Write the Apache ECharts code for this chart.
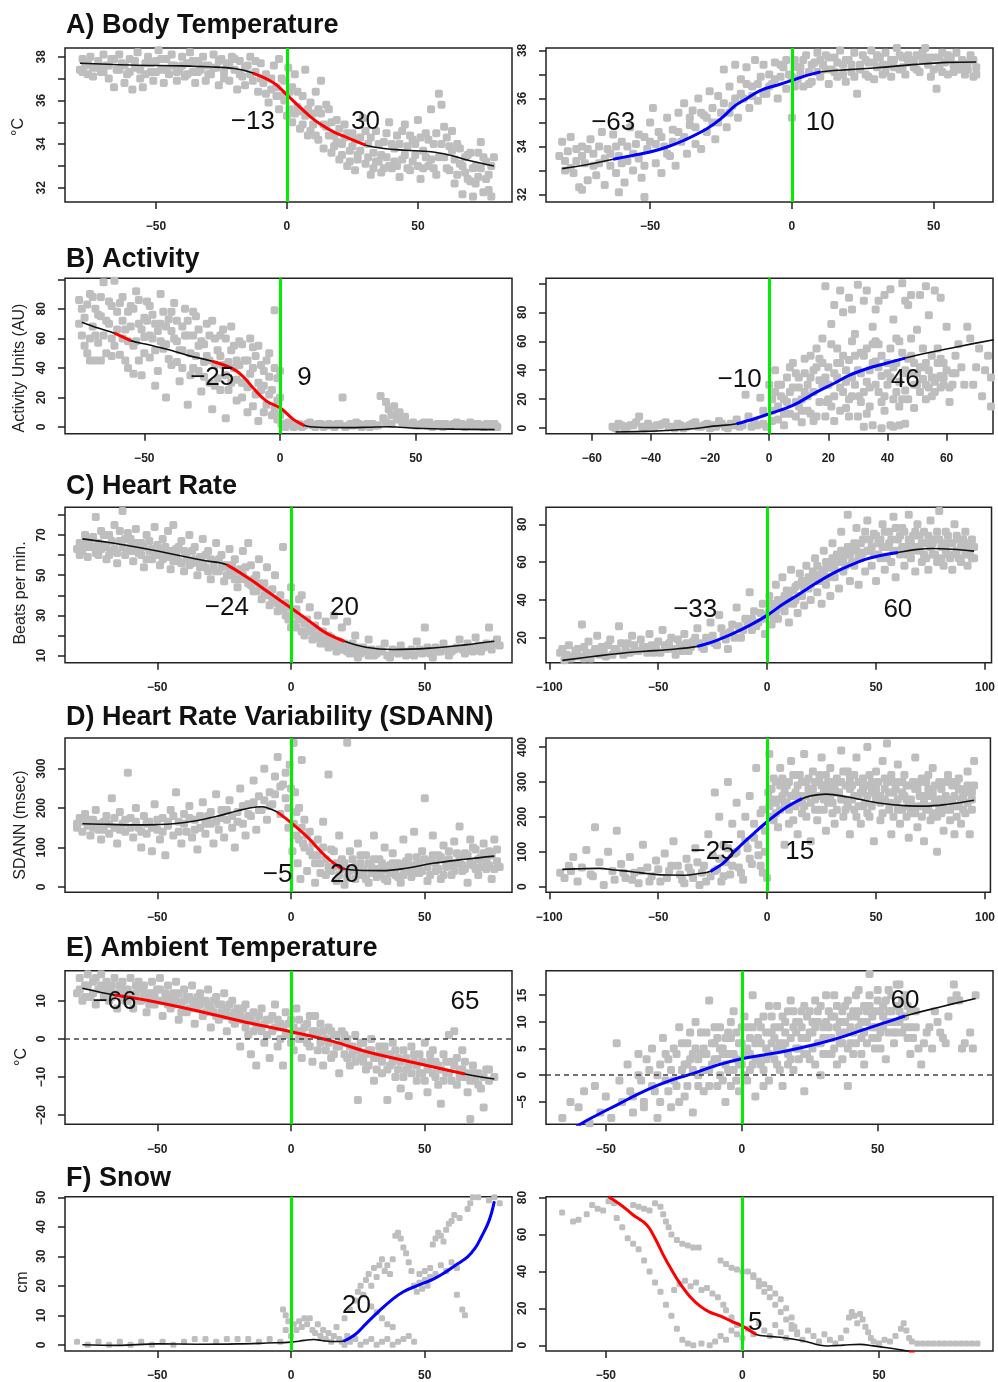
<!DOCTYPE html>
<html><head><meta charset="utf-8">
<script src="https://cdn.jsdelivr.net/npm/echarts@6/dist/echarts.min.js"></script>
<style>html,body{margin:0;padding:0;background:#fff}#c{width:998px;height:1382px}</style>
</head><body><div id="c"></div>
<script>
// ---------- tick values ----------
const xTicks50 = [-50, 0, 50];
const xTicks20 = [-60, -40, -20, 0, 20, 40, 60];
const xTicks100 = [-100, -50, 0, 50, 100];
const yTicksBT = [32, 33, 34, 35, 36, 37, 38];
const yLabBT = [32, 34, 36, 38];
const yTicksAct = [0, 20, 40, 60, 80, 100];
const yLabAct = [0, 20, 40, 60, 80];
const yTicksHRL = [10, 20, 30, 40, 50, 60, 70, 80];
const yLabHRL = [10, 30, 50, 70];
const yTicksHRR = [20, 40, 60, 80];
const yTicksSDL = [0, 100, 200, 300];
const yTicksSDR = [0, 100, 200, 300, 400];
const yTicksAmbL = [-20, -10, 0, 10];
const yTicksAmbR = [-5, 0, 5, 10, 15];
const yTicksSnowL = [0, 10, 20, 30, 40, 50];
const yTicksSnowR = [0, 20, 40, 60, 80];

// ---------- A) Body temperature ----------
const btLPts = [[-79,37.4],[-78,37.9],[-77,37.6],[-76,37.2],[-75,38.0],[-74,37.5],[-72,37.8],[-71,37.3],[-70,38.1],[-69,37.6],[-68,37.0],[-67,37.9],[-66,36.6],[-65,37.4],[-64,38.1],[-63,37.7],[-62,36.8],[-61,37.2],[-60,37.9],[-59,36.5],[-58,37.5],[-57,38.2],[-56,37.0],[-55,36.6],[-54,37.7],[-53,38.0],[-52,37.3],[-51,36.9],[-50,37.8],[-49,38.3],[-48,37.4],[-47,36.8],[-46,37.9],[-45,37.2],[-44,38.1],[-43,37.6],[-42,36.9],[-41,37.4],[-40,38.0],[-39,37.1],[-38,37.7],[-37,38.2],[-36,37.3],[-35,36.8],[-34,37.8],[-33,37.4],[-32,38.0],[-31,36.9],[-30,37.6],[-29,37.2],[-28,38.1],[-27,37.5],[-26,36.7],[-25,37.9],[-24,37.3],[-23,37.7],[-22,36.9],[-21,38.0],[-20,37.4],[-19,36.5],[-18,37.8],[-17,37.1],[-16,36.7],[-15,37.6],[-14,38.0],[-13,36.9],[-12,37.3],[-11,36.4],[-10,37.7],[-9,36.8],[-8,37.2],[-7,35.9],[-6,36.5],[-5,37.6],[-4,36.2],[-3,37.9],[-3,35.6],[-2,37.0],[-1,36.0],[0,35.3],[0.5,37.5],[1,36.4],[2,35.0],[3,37.2],[4,35.7],[5,34.7],[6,36.2],[7,37.4],[7,35.3],[8,34.4],[9,35.9],[10,34.9],[11,36.4],[12,34.2],[13,36.9],[13,35.4],[14,33.8],[15,34.8],[16,35.6],[17,33.6],[18,34.4],[19,35.1],[20,33.3],[21,34.0],[22,34.9],[23,33.0],[24,33.7],[25,34.5],[26,32.8],[27,33.5],[28,34.3],[29,35.2],[30,33.1],[31,34.0],[32,32.6],[33,33.6],[34,34.6],[35,33.2],[36,32.7],[37,34.1],[38,33.4],[39,35.0],[40,32.9],[41,33.8],[42,34.4],[43,32.5],[44,33.3],[45,34.9],[46,33.9],[47,32.8],[48,34.2],[49,33.5],[50,35.1],[51,32.4],[52,33.7],[53,34.5],[54,33.0],[55,35.6],[56,34.0],[57,32.6],[58,36.3],[59,35.8],[60,33.4],[61,34.3],[62,32.8],[63,33.7],[64,32.2],[65,34.0],[66,33.1],[67,31.7],[68,32.7],[69,33.5],[70,32.3],[71,31.6],[72,33.0],[73,32.5],[74,34.1],[75,31.8],[76,33.2],[77,32.6],[78,31.6],[79,33.4]];
const btLPtsMore = [[-78,37.3],[-76,37.7],[-74,37.1],[-72,37.5],[-70,37.3],[-68,37.6],[-66,37.9],[-64,37.4],[-62,37.6],[-60,37.3],[-58,37.8],[-56,37.4],[-54,37.2],[-52,37.7],[-50,37.3],[-48,37.9],[-46,37.4],[-44,37.6],[-42,37.3],[-40,37.6],[-38,37.2],[-36,37.8],[-34,37.3],[-32,37.6],[-30,37.2],[-28,37.5],[-26,37.8],[-24,37.0],[-22,37.6],[-20,37.9],[-18,37.2],[-16,37.5],[-14,37.2],[-12,37.8],[-10,37.0],[-8,36.3],[-6,37.0],[-4,36.6],[-2,36.2],[-1,36.9],[1,35.6],[2,36.6],[3,35.4],[4,36.4],[5,35.5],[6,34.9],[8,35.6],[9,34.6],[10,35.4],[11,34.4],[12,35.6],[14,34.9],[15,35.8],[16,34.4],[17,35.0],[18,33.9],[19,34.1],[20,34.7],[21,33.5],[22,34.3],[23,34.5],[24,33.2],[25,33.9],[26,34.2],[27,33.3],[28,33.7],[30,34.6],[31,33.4],[32,34.3],[33,32.9],[34,33.2],[35,34.0],[36,33.5],[37,32.9],[38,34.5],[39,33.0],[40,34.0],[41,33.2],[42,33.0],[43,34.0],[44,34.6],[45,33.5],[46,32.9],[47,34.4],[48,33.2],[49,34.0],[50,33.0],[51,34.3],[52,32.9],[53,33.4],[54,34.2],[55,33.3],[56,32.9],[57,34.5],[58,33.4],[59,34.0],[60,34.8],[61,32.9],[62,33.9],[63,34.6],[64,33.3],[65,32.6],[66,33.8],[67,33.0],[68,33.4],[69,32.4],[70,33.6],[71,32.9],[72,32.2],[73,33.6],[74,32.9],[75,33.4],[76,32.4],[77,31.9],[78,33.0]];
const btLFit = [[-79,37.7],[-60,37.62],[-40,37.58],[-30,37.54],[-20,37.46],[-13,37.25],[-5,36.8],[0,36.25],[4,35.8],[9,35.25],[13,34.9],[18,34.55],[23,34.3],[30,33.95],[37,33.8],[45,33.72],[55,33.65],[62,33.5],[68,33.3],[79,33.0]];
const btLSegs = [[-13, 30]];
const btLLabels = [{value:[-13,35], name:'\u221213'}, {value:[30,35], name:'30'}];

const btRPts = [[-82,33.6],[-81,34.2],[-80,33.0],[-79,33.8],[-78,34.4],[-77,32.9],[-76,33.4],[-75,32.3],[-74,34.0],[-74,32.2],[-73,33.3],[-72,32.6],[-71,34.3],[-70,33.7],[-69,32.8],[-68,33.3],[-67,34.6],[-66,32.4],[-65,33.9],[-64,33.2],[-63,34.5],[-62,32.9],[-61,33.6],[-61,32.1],[-60,34.2],[-59,32.5],[-58,33.4],[-57,34.8],[-56,33.0],[-55,34.1],[-54,33.5],[-53,32.7],[-52,34.4],[-52,31.9],[-51,33.9],[-50,35.0],[-49,35.6],[-48,33.3],[-47,34.6],[-46,32.9],[-45,34.0],[-44,35.2],[-43,33.6],[-42,34.7],[-41,33.2],[-40,35.4],[-39,34.2],[-38,35.8],[-37,33.7],[-36,34.9],[-35,35.5],[-34,34.1],[-33,36.0],[-32,33.9],[-31,35.3],[-30,34.6],[-29,36.3],[-28,35.0],[-27,34.3],[-26,36.1],[-25,35.4],[-24,37.2],[-23,34.8],[-22,36.5],[-21,35.7],[-20,37.4],[-19,35.2],[-18,36.8],[-17,36.0],[-16,37.3],[-15,35.6],[-14,36.5],[-13,37.6],[-12,35.9],[-11,36.9],[-10,37.4],[-9,36.2],[-8,37.0],[-7,36.6],[-6,37.5],[-5,36.0],[-4,36.9],[-3,37.3],[-2,36.4],[-1,37.0],[0,35.2],[1,37.6],[2,36.8],[3,37.3],[4,36.5],[5,37.8],[6,37.1],[7,36.7],[8,37.5],[9,37.9],[10,36.9],[11,37.4],[12,37.8],[13,36.6],[14,37.2],[15,37.7],[16,36.9],[17,38.0],[18,37.4],[19,36.7],[20,37.6],[21,37.1],[22,37.9],[23,36.2],[24,37.4],[25,37.8],[26,37.0],[27,37.5],[28,38.0],[29,36.8],[30,37.3],[31,37.7],[32,37.0],[33,37.9],[34,37.4],[35,36.9],[36,37.6],[37,38.1],[38,37.2],[39,37.7],[40,37.0],[41,37.5],[42,38.2],[43,37.3],[44,37.8],[45,37.1],[46,37.6],[47,38.1],[48,37.4],[49,36.9],[50,37.7],[51,36.4],[52,37.3],[53,37.9],[54,37.5],[55,37.0],[56,37.7],[57,37.4],[58,37.9],[59,37.2],[60,37.6],[61,37.0],[62,37.5],[63,37.8],[64,36.9],[65,37.3]];
const btRPtsMore = [[-80,33.4],[-78,33.1],[-76,33.9],[-74,33.6],[-72,33.9],[-70,33.2],[-68,34.0],[-66,33.5],[-64,33.7],[-62,34.0],[-60,33.3],[-58,34.0],[-56,33.7],[-54,34.5],[-52,33.2],[-50,34.2],[-48,34.1],[-46,34.4],[-44,33.7],[-42,34.2],[-40,34.6],[-38,34.4],[-36,35.2],[-34,34.8],[-32,35.4],[-30,35.2],[-28,35.6],[-26,35.0],[-24,35.8],[-22,35.4],[-20,36.0],[-18,36.2],[-16,36.6],[-14,36.1],[-12,36.6],[-10,36.2],[-8,36.5],[-6,36.8],[-4,37.4],[-2,37.6],[0,36.9],[1,36.5],[2,37.3],[3,37.0],[4,37.6],[6,36.6],[7,37.4],[9,37.1],[10,37.6],[12,37.2],[13,37.7],[15,37.1],[16,37.5],[18,37.0],[19,37.6],[21,37.4],[22,36.9],[24,37.2],[26,37.6],[27,36.9],[29,37.5],[30,37.8],[32,37.4],[33,37.1],[35,37.6],[36,37.3],[38,37.8],[39,37.3],[41,37.8],[43,37.6],[44,37.2],[46,37.9],[48,37.7],[50,37.2],[52,37.7],[53,37.1],[55,37.8],[57,37.1],[58,37.4],[60,37.3],[62,37.2],[64,37.6],[65,37.0]];
const btRFit = [[-81,33.08],[-72,33.25],[-63,33.47],[-56,33.63],[-50,33.77],[-44,33.98],[-38,34.26],[-30,34.74],[-25,35.16],[-20,35.7],[-16,35.99],[-11,36.34],[-5,36.56],[0,36.75],[5,36.95],[10,37.1],[20,37.2],[30,37.28],[44,37.42],[55,37.5],[65,37.52]];
const btRSegs = [[-63, 10]];
const btRLabels = [{value:[-63,35], name:'\u221263'}, {value:[10,35], name:'10'}];

// ---------- B) Activity ----------
const actLPts = [[-74,86],[-73,62],[-72,74],[-71,50],[-70,90],[-69,68],[-68,80],[-67,57],[-66,45],[-65,98],[-64,72],[-63,85],[-62,60],[-61,99],[-60,78],[-59,49],[-58,88],[-57,66],[-56,40],[-55,82],[-54,55],[-53,92],[-52,70],[-51,35],[-50,61],[-49,85],[-48,47],[-47,76],[-46,28],[-45,65],[-44,90],[-43,53],[-42,20],[-41,73],[-40,42],[-39,84],[-38,58],[-37,31],[-36,68],[-35,80],[-34,15],[-33,50],[-32,62],[-31,75],[-30,38],[-29,24],[-28,56],[-27,70],[-26,45],[-25,12],[-24,60],[-23,33],[-22,48],[-21,66],[-20,6],[-19,25],[-18,52],[-17,40],[-16,18],[-15,58],[-14,30],[-13,45],[-12,10],[-11,36],[-10,54],[-9,22],[-8,4],[-7,42],[-6,28],[-5,15],[-4,50],[-3,8],[-2,79],[-1,33],[0,20],[0.5,2],[-70,60],[-68,45],[-66,75],[-62,48],[-58,72],[-56,58],[-54,80],[-52,45],[-50,74],[-48,62],[-46,52],[-44,70],[-42,56],[-40,65],[-38,44],[-36,52],[-34,62],[-32,40],[-30,55],[-28,44],[-26,30],[-24,42],[-22,25],[-20,35],[-18,30],[-16,45],[-14,20],[-12,27],[-10,14],[-8,30],[-6,10],[-4,22],[-2,12],[-1,5],[1,1],[3,3],[5,0],[7,2],[9,1],[11,3],[13,0],[15,2],[17,1],[20,0],[22,2],[23,20],[25,1],[28,3],[30,0],[32,2],[35,1],[37,21],[38,6],[39,17],[40,12],[41,8],[42,14],[43,5],[44,10],[45,3],[46,7],[48,2],[50,1],[53,3],[56,0],[59,2],[62,1],[65,3],[68,0],[71,2],[74,1],[77,2],[80,0]];
const actLPtsMore = [[-74,70],[-73,80],[-72,55],[-71,83],[-70,45],[-69,88],[-68,62],[-67,76],[-66,88],[-65,62],[-64,50],[-63,70],[-62,82],[-61,55],[-60,66],[-59,84],[-58,60],[-57,45],[-56,78],[-55,68],[-54,36],[-53,58],[-52,86],[-51,66],[-50,50],[-49,72],[-48,82],[-47,60],[-46,70],[-45,38],[-44,58],[-43,78],[-42,68],[-41,46],[-40,78],[-39,60],[-38,72],[-37,52],[-36,40],[-35,62],[-34,72],[-33,35],[-32,78],[-31,48],[-30,66],[-29,58],[-28,34],[-27,48],[-26,62],[-25,72],[-24,28],[-23,52],[-22,62],[-21,42],[-20,60],[-19,44],[-18,68],[-17,55],[-16,32],[-15,42],[-14,56],[-13,30],[-12,45],[-11,60],[-10,40],[-9,48],[-8,55],[-7,25],[-6,38],[-5,45],[-4,34],[-3,25],[-2,40],[-1,18],[0,8],[0,38],[2,0],[4,2],[6,1],[8,0],[10,2],[12,1],[14,2],[16,0],[18,2],[19,1],[21,2],[24,0],[26,2],[27,1],[29,2],[31,1],[33,0],[34,2],[36,1],[39,3],[41,2],[43,9],[45,6],[47,2],[49,3],[51,1],[52,2],[54,1],[55,3],[57,1],[58,2],[60,0],[61,2],[63,1],[64,2],[66,1],[67,2],[69,1],[70,3],[72,1],[73,2],[75,0],[76,2],[78,1],[79,2]];
const actLFit = [[-73,71],[-67,67],[-61,63.5],[-55,58.5],[-48,55.5],[-42,52.8],[-34,48.5],[-25,44.5],[-17,39],[-13,33],[-10,26.6],[-5,17.5],[0,13],[5,5],[9,1],[14,-0.2],[25,-0.4],[32,-0.2],[40,0.2],[50,-0.8],[65,-1.5],[79,-1.8]];
const actLSegs = [[-61, -55], [-25, 9]];
const actLLabels = [{value:[-25,33], name:'\u221225'}, {value:[9,33], name:'9'}];

const actRPts = [[-53,1],[-51,3],[-49,0],[-47,2],[-45,4],[-44,8],[-43,1],[-41,3],[-39,0],[-37,2],[-35,4],[-33,1],[-31,3],[-29,0],[-27,2],[-25,4],[-23,1],[-21,3],[-19,2],[-17,5],[-15,1],[-13,3],[-11,6],[-9,2],[-8,23],[-7,8],[-5,4],[-3,21],[-2,12],[-1,1],[0,30],[1,5],[2,40],[3,15],[4,22],[5,2],[6,35],[7,10],[8,45],[9,18],[10,28],[11,4],[12,38],[13,12],[14,50],[15,25],[16,8],[17,33],[18,62],[19,98],[19.5,18],[20,42],[21,72],[22,5],[23,55],[24,28],[25,80],[26,14],[27,47],[28,35],[29,65],[30,99],[30.5,22],[31,52],[32,88],[33,10],[34,40],[35,70],[36,30],[37,58],[38,18],[39,92],[40,45],[41,2],[42,75],[43,25],[44,60],[45,100],[45.5,38],[46,3],[47,85],[48,50],[49,30],[50,68],[51,92],[52,42],[53,20],[54,78],[55,35],[56,95],[57,55],[58,28],[59,45],[60,70],[61,18],[62,38],[64,58],[66,30],[68,62],[70,42],[72,22],[74,50],[75,35],[5,20],[8,28],[10,15],[12,25],[14,35],[16,42],[18,30],[20,20],[22,38],[24,45],[26,32],[28,22],[30,40],[32,50],[34,28],[36,46],[38,36],[40,30],[42,42],[44,32],[46,26],[48,38],[50,30],[52,34],[54,28],[56,32],[58,36],[32,1],[35,2],[38,0],[42,1],[44,2]];
const actRPtsMore = [[1,12],[2,25],[3,6],[4,30],[6,18],[7,42],[9,8],[10,35],[11,20],[12,48],[13,30],[14,10],[15,40],[16,55],[17,18],[18,45],[19,8],[20,30],[21,58],[22,22],[23,35],[24,12],[25,50],[26,40],[27,20],[28,60],[29,30],[30,8],[31,38],[32,25],[33,55],[34,15],[35,45],[36,60],[37,25],[38,50],[39,12],[40,38],[41,55],[42,20],[43,45],[44,15],[45,52],[46,40],[47,20],[48,62],[49,45],[50,38],[51,25],[52,55],[53,45],[54,40],[55,50],[56,25],[57,35],[58,48],[59,30],[60,40],[62,30],[63,50],[65,42],[67,70],[69,30],[71,55],[73,40],[75,15],[24,95],[27,90],[33,95],[37,88],[41,96],[48,92],[53,98],[58,90],[46,88],[36,82],[28,82],[22,85],[-6,1],[-4,2],[-2,3],[-10,1],[-12,2],[-14,0],[-16,3],[-18,1],[-20,0],[-22,2],[-24,1],[-26,3],[-28,1],[-30,2],[-32,0],[-34,1],[-36,3],[-38,2],[-40,1],[-42,0],[-46,2],[-48,1],[-50,2],[-52,0],[1,20],[3,30],[5,10],[7,25],[9,38],[11,12],[13,22],[15,5],[17,48],[19,35],[21,15],[23,45],[25,25],[27,8],[29,50],[31,18],[33,32],[35,58],[37,42],[39,22],[41,35],[43,62],[45,20],[47,48],[49,14],[51,42],[53,30],[55,22],[57,45],[59,35],[61,28],[63,38]];
const actRFit = [[-52,-2.7],[-42,-2.2],[-35,-1.6],[-25,-0.2],[-19,1.4],[-11,3],[-5,6.5],[0,9.9],[8,15.7],[16,24.9],[22,31],[27,36.4],[33,41],[39,44.5],[46,48.4],[55,52.6],[65,56.8],[76,61.1]];
const actRSegs = [[-11, 46]];
const actRLabels = [{value:[-10,33.6], name:'\u221210'}, {value:[46,33.6], name:'46'}];

// ---------- C) Heart rate ----------
const hrLPts = [[-79,66],[-78,62],[-77,70],[-76,59],[-75,68],[-74,64],[-73,79],[-72,60],[-71,72],[-70,65],[-69,58],[-68,70],[-67,62],[-66,75],[-65,56],[-64,67],[-63,82],[-62,60],[-61,71],[-60,64],[-59,57],[-58,73],[-57,61],[-56,66],[-55,54],[-54,70],[-53,62],[-52,58],[-51,74],[-50,65],[-49,55],[-48,68],[-47,60],[-46,72],[-45,53],[-44,75],[-43,63],[-42,57],[-41,67],[-40,52],[-39,61],[-38,70],[-37,56],[-36,64],[-35,50],[-34,59],[-33,68],[-32,54],[-31,62],[-30,48],[-29,57],[-28,66],[-27,52],[-26,60],[-25,47],[-24,55],[-23,63],[-22,50],[-21,58],[-20,44],[-19,53],[-18,62],[-17,48],[-16,66],[-15,55],[-14,42],[-13,50],[-12,58],[-11,38],[-10,46],[-9,54],[-8,35],[-7,43],[-6,50],[-5,32],[-4,40],[-3,64],[-2,36],[-1,28],[0,44],[1,31],[2,24],[3,38],[4,40],[5,20],[6,28],[7,34],[8,18],[9,25],[10,30],[11,16],[12,22],[13,27],[14,14],[15,19],[16,30],[17,12],[18,17],[19,24],[20,13],[21,27],[22,11],[23,16],[24,20],[25,9],[27,14],[29,18],[31,10],[33,13],[35,16],[37,9],[39,12],[41,15],[43,10],[45,13],[47,17],[49,11],[50,24],[51,14],[53,9],[55,12],[57,16],[59,10],[61,13],[63,18],[65,11],[67,14],[69,19],[71,12],[73,16],[74,24],[75,13],[77,18]];
const hrLPtsMore = [[-80,63],[-79,60],[-77,66],[-76,64],[-74,69],[-73,61],[-72,66],[-71,63],[-70,70],[-69,64],[-68,60],[-67,67],[-66,63],[-65,61],[-64,72],[-63,64],[-62,68],[-61,62],[-60,68],[-59,62],[-58,66],[-57,64],[-56,60],[-55,64],[-54,58],[-53,67],[-52,63],[-51,60],[-50,60],[-49,63],[-48,58],[-47,64],[-46,59],[-45,62],[-44,57],[-43,60],[-42,64],[-41,56],[-40,62],[-39,58],[-38,55],[-37,62],[-36,58],[-35,57],[-34,54],[-33,56],[-32,60],[-31,52],[-30,58],[-29,54],[-28,52],[-27,58],[-26,54],[-25,55],[-24,50],[-23,53],[-22,55],[-21,48],[-20,52],[-19,48],[-18,50],[-17,54],[-16,46],[-15,45],[-14,48],[-13,42],[-12,46],[-11,44],[-10,40],[-9,42],[-8,40],[-7,37],[-6,38],[-5,36],[-4,34],[-3,33],[-2,30],[-1,34],[0,30],[0,24],[1,26],[2,33],[3,28],[4,22],[5,26],[6,22],[7,24],[8,22],[9,19],[10,20],[11,22],[12,18],[13,16],[14,20],[15,15],[16,17],[17,15],[18,14],[19,13],[20,16],[21,12],[22,14],[23,12],[24,11],[25,14],[26,11],[28,12],[29,10],[30,13],[32,11],[34,12],[36,10],[38,13],[40,11],[42,12],[44,11],[46,10],[48,13],[50,12],[52,11],[54,14],[56,12],[58,13],[60,12],[62,14],[64,13],[66,16],[68,12],[70,15],[72,14],[74,15],[76,16],[78,15]];
const hrLFit = [[-78,68.1],[-68,66.3],[-59,64.3],[-49,61.8],[-40,59.3],[-32,57.2],[-24,55.2],[-15,47.7],[-8,41.1],[0,33.7],[7,27],[13,21.3],[20,17.1],[28,14.1],[38,13],[53,13.8],[65,15.3],[76,17.1]];
const hrLSegs = [[-24, 20]];
const hrLLabels = [{value:[-24,33.7], name:'\u221224'}, {value:[20,33.7], name:'20'}];

const hrRPts = [[-95,12],[-93,8],[-91,16],[-89,10],[-87,14],[-85,27],[-84,9],[-82,18],[-80,12],[-78,21],[-76,15],[-74,10],[-72,19],[-70,14],[-68,26],[-66,11],[-64,17],[-62,21],[-60,13],[-58,19],[-56,15],[-54,22],[-52,12],[-50,18],[-48,24],[-46,14],[-44,20],[-42,11],[-40,16],[-38,22],[-36,13],[-34,18],[-32,25],[-30,15],[-28,20],[-26,28],[-24,17],[-22,32],[-20,22],[-18,14],[-16,27],[-14,36],[-12,20],[-10,30],[-8,44],[-7,24],[-6,34],[-4,28],[-2,38],[-1,22],[0,32],[1,42],[2,27],[3,36],[4,48],[5,30],[6,40],[7,52],[8,34],[9,45],[10,28],[11,56],[12,38],[13,47],[14,33],[15,54],[16,42],[17,37],[18,58],[19,46],[20,40],[21,50],[22,62],[23,44],[24,53],[25,38],[26,66],[27,48],[28,57],[29,42],[30,70],[31,52],[32,60],[33,46],[34,76],[35,55],[36,64],[37,85],[38,50],[39,68],[40,58],[41,78],[42,48],[43,62],[44,72],[45,55],[46,82],[47,66],[48,58],[49,75],[50,50],[51,70],[52,62],[53,80],[54,56],[55,68],[56,76],[57,60],[58,84],[59,52],[60,72],[61,64],[62,78],[63,58],[64,68],[65,85],[66,62],[67,74],[68,55],[69,80],[70,66],[71,60],[72,76],[73,70],[74,56],[75,82],[76,64],[77,72],[78,60],[79,87],[80,68],[81,58],[82,76],[83,64],[84,70],[85,56],[86,80],[87,66],[88,72],[89,60],[90,68],[91,76],[92,58],[93,64],[94,72],[95,62]];
const hrRPtsMore = [[-94,14],[-92,11],[-90,9],[-88,13],[-86,10],[-84,15],[-83,12],[-81,9],[-79,14],[-77,11],[-75,13],[-73,16],[-71,11],[-69,13],[-67,17],[-65,14],[-63,12],[-61,16],[-59,13],[-57,15],[-55,12],[-53,16],[-51,14],[-49,12],[-47,16],[-45,17],[-43,14],[-41,19],[-39,13],[-37,17],[-35,15],[-33,20],[-31,17],[-29,14],[-27,18],[-25,21],[-23,16],[-21,25],[-19,19],[-17,23],[-15,20],[-13,26],[-11,24],[-9,28],[-7,30],[-5,26],[-3,33],[-1,30],[1,34],[2,38],[3,30],[4,34],[5,40],[6,36],[8,42],[9,38],[10,44],[11,40],[12,45],[13,40],[14,48],[15,42],[16,50],[17,46],[18,50],[19,52],[20,48],[21,55],[22,52],[23,58],[24,50],[25,56],[26,54],[27,60],[28,52],[29,58],[30,62],[31,56],[32,64],[33,60],[34,66],[35,62],[36,58],[37,68],[38,64],[39,60],[40,70],[41,66],[42,62],[43,70],[44,65],[45,76],[46,66],[47,72],[48,68],[49,64],[50,74],[51,64],[52,72],[53,68],[54,76],[55,62],[56,70],[57,72],[58,66],[59,78],[60,66],[61,74],[62,68],[63,76],[64,64],[65,72],[66,70],[67,66],[68,76],[69,68],[70,74],[71,70],[72,64],[73,62],[74,74],[75,68],[76,70],[77,64],[78,76],[79,72],[80,62],[81,70],[82,66],[83,74],[84,62],[85,70],[86,64],[87,74],[88,62],[89,68],[90,72],[91,64],[92,70],[93,66],[94,62],[95,68]];
const hrRFit = [[-94,8],[-80,10],[-69,11.5],[-56,12.8],[-46,13.6],[-32,15.4],[-24,18.2],[-16,22],[-8,26.5],[0,31.8],[7,37.5],[15,43.3],[22,48.5],[30,53.9],[38,58.2],[45,61.4],[52,63.5],[60,65.1],[68,66.6],[76,67.2],[85,66.8],[95,65.8]];
const hrRSegs = [[-32, 60]];
const hrRLabels = [{value:[-33,35], name:'\u221233'}, {value:[60,35], name:'60'}];

// ---------- D) Heart rate variability ----------
const hrvLPts = [[-80,160],[-79,175],[-78,140],[-77,185],[-76,155],[-75,130],[-74,170],[-73,195],[-72,145],[-71,120],[-70,165],[-69,180],[-68,135],[-67,225],[-66,150],[-65,110],[-64,190],[-63,160],[-62,140],[-61,290],[-60,175],[-59,125],[-58,200],[-57,150],[-56,100],[-55,180],[-54,135],[-53,165],[-52,90],[-51,210],[-50,145],[-49,120],[-48,175],[-47,80],[-46,155],[-45,195],[-44,130],[-43,240],[-42,165],[-41,110],[-40,185],[-39,140],[-38,205],[-37,125],[-36,170],[-35,95],[-34,150],[-33,215],[-32,135],[-31,180],[-30,160],[-29,110],[-28,235],[-27,145],[-26,195],[-25,125],[-24,170],[-23,220],[-22,150],[-21,100],[-20,190],[-19,250],[-18,160],[-17,130],[-16,210],[-15,180],[-14,270],[-13,145],[-12,230],[-11,195],[-10,300],[-9,170],[-8,240],[-7,210],[-6,280],[-5,330],[-4,185],[-3,260],[-2,225],[-1,150],[-0.5,310],[0.5,90],[1,365],[1.5,240],[2,130],[2.5,60],[3,200],[3.5,20],[4,322],[4.5,110],[5,170],[6,40],[7,140],[8,80],[9,10],[10,120],[11,60],[12,165],[13,30],[14,285],[15,95],[16,50],[17,15],[18,130],[19,70],[20,5],[21,366],[22,90],[23,45],[24,20],[25,110],[26,60],[27,30],[28,80],[29,10],[30,50],[31,130],[32,25],[33,70],[34,40],[35,100],[36,15],[37,55],[38,85],[39,30],[40,60],[41,10],[42,120],[43,45],[44,75],[45,25],[46,140],[47,55],[48,35],[49,90],[50,225],[51,15],[52,65],[53,130],[54,40],[55,80],[56,20],[57,105],[58,50],[59,70],[60,30],[61,115],[62,60],[63,153],[64,40],[65,85],[66,10],[67,120],[68,55],[69,95],[70,30],[71,75],[72,110],[73,45],[74,90],[75,20],[76,120],[77,65],[78,50]];
const hrvLPtsMore = [[-80,150],[-78,165],[-76,170],[-74,150],[-72,160],[-70,145],[-68,160],[-66,175],[-64,145],[-62,170],[-60,150],[-58,165],[-56,140],[-54,160],[-52,150],[-50,170],[-48,140],[-46,165],[-44,180],[-42,140],[-40,160],[-38,175],[-36,145],[-34,180],[-32,160],[-30,190],[-28,165],[-26,175],[-24,195],[-22,180],[-20,165],[-18,205],[-16,185],[-14,215],[-12,195],[-10,220],[-8,205],[-6,235],[-4,255],[-2,290],[-1,200],[0,250],[1,160],[2,190],[3,120],[4,150],[5,100],[6,130],[7,90],[8,110],[9,60],[10,80],[11,35],[12,100],[13,70],[14,50],[15,40],[16,90],[17,60],[18,30],[19,45],[20,60],[21,25],[22,40],[23,70],[24,50],[25,30],[26,80],[27,45],[28,20],[29,60],[30,35],[31,70],[32,45],[33,30],[34,60],[35,20],[36,50],[37,35],[38,60],[39,45],[40,25],[41,50],[42,30],[43,65],[44,40],[45,55],[46,35],[47,75],[48,60],[49,40],[50,70],[51,50],[52,30],[53,80],[54,60],[55,45],[56,75],[57,30],[58,65],[59,90],[60,55],[61,40],[62,85],[63,70],[64,55],[65,45],[66,80],[67,60],[68,100],[69,45],[70,70],[71,50],[72,85],[73,65],[74,55],[75,80],[76,45],[77,95]];
const hrvLFit = [[-78,160],[-68,158.5],[-59,157.4],[-50,158],[-44,160],[-36,167],[-28,178.6],[-20,193],[-15,201],[-11,203.5],[-8,198],[-5,189],[0,163],[6,127],[13,77],[18,50],[20,45],[25,42],[34,41],[43,47],[53,59.6],[65,70],[76,78]];
const hrvLSegs = [[-5, 20]];
const hrvLLabels = [{value:[-5,30], name:'\u22125'}, {value:[20,30], name:'20'}];

const hrvRPts = [[-95,40],[-93,25],[-91,60],[-89,85],[-87,15],[-85,55],[-83,105],[-81,35],[-79,170],[-77,70],[-75,5],[-73,100],[-71,45],[-69,160],[-67,65],[-65,25],[-63,85],[-61,40],[-59,10],[-57,120],[-55,55],[-53,30],[-51,75],[-49,15],[-47,95],[-45,45],[-43,130],[-41,60],[-39,20],[-37,80],[-35,40],[-33,110],[-31,5],[-29,60],[-27,150],[-26,30],[-25,90],[-24,270],[-23,50],[-22,200],[-21,15],[-20,120],[-19,70],[-18,300],[-17,35],[-16,180],[-15,95],[-14,240],[-13,55],[-12,150],[-11,20],[-10,200],[-9,110],[-8,260],[-7,65],[-6,140],[-5,340],[-4,90],[-3,210],[-2,40],[-1,160],[0,25],[0.5,270],[1,380],[2,200],[3,310],[4,240],[5,170],[6,340],[7,260],[8,120],[9,290],[10,220],[11,360],[12,190],[13,270],[14,150],[15,320],[16,240],[17,380],[18,200],[19,280],[20,130],[21,330],[22,250],[23,190],[24,300],[25,370],[26,220],[27,160],[28,280],[29,340],[30,240],[31,180],[32,310],[33,270],[34,390],[35,200],[36,250],[37,330],[38,150],[39,290],[40,220],[41,370],[42,260],[43,180],[44,310],[45,240],[46,400],[47,200],[48,280],[49,130],[50,330],[51,250],[52,190],[53,360],[54,280],[55,410],[56,220],[57,150],[58,300],[59,240],[60,350],[61,180],[62,270],[63,320],[64,200],[65,140],[66,290],[67,230],[68,370],[69,170],[70,260],[71,310],[72,130],[73,220],[74,280],[75,190],[76,340],[77,240],[78,100],[79,300],[80,210],[81,160],[82,260],[83,320],[84,190],[85,240],[86,150],[87,300],[88,230],[89,180],[90,270],[91,210],[92,330],[93,150],[94,250],[95,360]];
const hrvRPtsMore = [[1,230],[2,280],[3,190],[4,300],[5,250],[6,220],[7,310],[8,270],[9,240],[10,300],[11,260],[12,320],[13,230],[14,290],[15,260],[16,300],[17,230],[18,260],[19,310],[20,240],[21,280],[22,300],[23,260],[24,220],[25,290],[26,270],[27,320],[28,240],[29,260],[30,300],[31,280],[32,220],[33,300],[34,250],[35,330],[36,290],[37,230],[38,280],[39,250],[40,320],[41,200],[42,300],[43,270],[44,230],[45,290],[46,260],[47,320],[48,230],[49,270],[50,250],[51,300],[52,240],[53,210],[54,250],[55,300],[56,270],[57,320],[58,200],[59,280],[60,250],[61,300],[62,220],[63,260],[64,290],[65,230],[66,250],[67,300],[68,210],[69,280],[70,230],[71,200],[72,260],[73,300],[74,230],[75,260],[76,210],[77,290],[78,250],[79,220],[80,280],[81,240],[82,300],[83,250],[84,220],[85,290],[86,260],[87,200],[88,280],[89,250],[90,220],[91,280],[92,240],[93,270],[94,220],[95,290],[-90,45],[-80,30],[-70,20],[-66,40],[-62,20],[-58,45],[-54,15],[-50,50],[-46,25],[-44,60],[-40,35],[-38,10],[-36,55],[-34,25],[-32,70],[-30,40],[-28,15],[-24,45],[-22,80],[-20,30],[-18,110],[-16,60],[-14,100],[-12,40],[-10,130],[-8,80],[-6,180],[-4,120],[-3,60],[-2,220],[-1,100],[2,250],[4,210],[6,290],[8,240],[10,180],[12,260],[14,320],[16,210],[18,300],[20,270],[22,220],[24,320],[26,250],[28,300],[30,210],[32,270],[34,300],[36,220],[38,310],[40,260],[42,230],[44,280],[46,210],[48,300],[50,280],[52,260],[54,310],[56,240],[58,270],[60,220],[62,300],[64,250],[66,210],[68,280],[70,300],[72,240],[74,320],[76,270],[78,200],[80,250],[82,220],[84,300],[86,230],[88,310],[90,250],[92,290],[94,270]];
const hrvRFit = [[-94,49.6],[-85,51.5],[-77,52.5],[-70,48],[-62,42.9],[-54,37],[-46,33.4],[-38,33],[-32,37],[-26,44],[-20,68],[-16,95],[-11,125],[-7,148],[0,186],[8,224],[16,252],[20,260],[27,265],[37,257],[45,247],[53,238],[63,232],[72,230.6],[83,236],[95,247.7]];
const hrvRSegs = [[-26, 16]];
const hrvRLabels = [{value:[-25,100], name:'\u221225'}, {value:[15,100], name:'15'}];

// ---------- E) Ambient temperature ----------
const ambLPts = [[-80,12],[-79,16],[-78,10],[-77,14],[-76,17],[-75,11],[-74,15],[-73,9],[-72,13],[-71,17],[-70,11],[-69,15],[-68,10],[-67,14],[-66,16],[-65,8],[-64,12],[-63,15],[-62,10],[-61,13],[-60,16],[-59,8],[-58,12],[-57,15],[-56,10],[-55,14],[-54,7],[-53,11],[-52,15],[-51,9],[-50,13],[-49,16],[-48,6],[-47,10],[-46,14],[-45,8],[-44,12],[-43,15],[-42,5],[-41,9],[-40,13],[-39,7],[-38,11],[-37,14],[-36,4],[-35,8],[-34,12],[-33,6],[-32,10],[-31,13],[-30,3],[-29,7],[-28,11],[-27,5],[-26,9],[-25,12],[-24,2],[-23,6],[-22,10],[-21,4],[-20,8],[-19,-2],[-18,5],[-17,9],[-16,1],[-15,-4],[-14,7],[-13,-7],[-12,3],[-11,8],[-10,-1],[-9,5],[-8,-5],[-7,2],[-6,9],[-5,-2],[-4,4],[-3,-7],[-2,7],[-1,1],[0,5],[1,-3],[2,8],[3,0],[4,-5],[5,3],[6,-1],[7,6],[8,-6],[9,2],[10,-3],[11,4],[12,-7],[13,0],[14,3],[15,-5],[16,1],[17,-2],[18,-9],[19,2],[20,-4],[21,0],[22,-7],[23,-2],[24,1],[25,-16],[26,-5],[27,-1],[28,-8],[29,-3],[30,0],[31,-11],[32,-5],[33,-2],[34,-9],[35,-4],[36,-16],[37,-7],[38,-1],[39,-10],[40,-5],[41,-13],[42,-3],[43,-8],[44,-15],[45,-2],[46,-6],[47,-11],[48,-4],[49,-9],[50,-1],[51,-14],[52,-6],[53,-3],[54,-10],[55,-7],[56,-17],[57,-4],[58,-9],[59,1],[60,-6],[61,2],[62,-12],[63,-8],[64,-3],[65,-10],[66,-14],[67,-21],[68,-7],[69,-11],[70,-9],[71,-13],[72,-18],[73,-8],[74,-11],[76,-10]];
const ambLPtsMore = [[-79,13],[-77,11],[-76,14],[-74,12],[-73,16],[-71,14],[-70,13],[-68,13],[-67,11],[-66,12],[-64,14],[-63,11],[-62,13],[-61,10],[-60,11],[-58,14],[-57,10],[-56,13],[-55,11],[-54,12],[-53,9],[-52,12],[-51,11],[-50,10],[-49,13],[-48,10],[-47,12],[-46,9],[-45,11],[-44,9],[-43,10],[-42,12],[-41,7],[-40,10],[-39,11],[-38,8],[-37,10],[-36,9],[-35,11],[-34,9],[-33,10],[-32,7],[-31,9],[-30,8],[-29,10],[-28,6],[-27,9],[-26,7],[-25,6],[-24,8],[-23,9],[-22,5],[-21,7],[-20,5],[-19,6],[-18,8],[-17,3],[-16,6],[-15,5],[-14,2],[-13,4],[-12,6],[-11,2],[-10,4],[-9,1],[-8,5],[-7,6],[-6,3],[-5,5],[-4,0],[-3,3],[-2,1],[-1,4],[0,-1],[1,3],[2,2],[3,5],[4,2],[5,0],[6,4],[7,-2],[8,2],[9,6],[10,1],[11,-1],[12,2],[13,-3],[14,-1],[15,2],[16,-4],[17,1],[18,-2],[19,-1],[20,1],[21,-5],[22,-2],[23,-4],[24,-6],[25,-3],[26,-1],[27,-6],[28,-4],[29,-7],[30,-3],[31,-5],[32,-8],[33,-4],[34,-6],[35,-2],[36,-8],[37,-4],[38,-6],[39,-3],[40,-8],[41,-6],[42,-10],[43,-5],[44,-7],[45,-9],[46,-4],[47,-7],[48,-9],[49,-6],[50,-11],[51,-8],[52,-4],[53,-9],[54,-6],[55,-12],[56,-8],[57,-11],[58,-6],[59,-9],[60,-11],[61,-7],[62,-5],[63,-10],[64,-8],[65,-6],[66,-9],[67,-11],[68,-9],[70,-12],[72,-10],[74,-8]];
const ambLFit = [[-78,13.3],[-71,12.2],[-66,11.5],[-53,10],[-34,7.2],[-15,4.1],[0,1.9],[16,-0.7],[28,-3.3],[47,-6.4],[65,-9.2],[76,-10.5]];
const ambLSegs = [[-66, 65]];
const ambLLabels = [{value:[-66,9.8], name:'\u221266'}, {value:[65,9.8], name:'65'}];

const ambRPts = [[-66,-8],[-63,-5],[-60,-6],[-58,-3],[-56,-9],[-54,-2],[-52,-7],[-50,-4],[-48,-8],[-46,6],[-45,-1],[-44,-5],[-42,2],[-41,-3],[-40,-7],[-38,4],[-37,-1],[-36,-5],[-34,1],[-33,5],[-32,-3],[-31,-8],[-30,2],[-29,7],[-28,-1],[-27,3],[-26,-6],[-25,5],[-24,-2],[-23,9],[-22,1],[-21,-4],[-20,6],[-19,3],[-18,-7],[-17,10],[-16,0],[-15,4],[-14,-3],[-13,8],[-12,14],[-11,2],[-10,6],[-9,-2],[-8,9],[-7,4],[-6,-5],[-5,1],[-4,7],[-3,12],[-2,3],[-1,-3],[0,6],[1,0],[2,9],[3,4],[4,15],[5,-4],[6,7],[7,2],[8,11],[9,5],[10,-1],[11,8],[12,3],[13,13],[14,6],[15,-2],[16,10],[17,4],[18,14],[19,1],[20,8],[21,5],[22,12],[23,-3],[24,7],[25,3],[26,10],[27,14],[28,6],[29,0],[30,9],[31,4],[32,12],[33,7],[34,15],[35,2],[36,10],[37,6],[38,13],[39,-2],[40,9],[41,4],[42,11],[43,16],[44,7],[45,2],[46,12],[47,19],[48,9],[49,5],[50,14],[51,8],[52,11],[53,3],[54,16],[55,10],[56,6],[57,13],[58,17],[59,8],[60,11],[62,4],[63,7],[64,12],[66,2],[68,8],[70,5],[72,10],[74,7],[76,11],[78,17],[80,14],[82,6],[84,8],[85,5],[86,15]];
const ambRPtsMore = [[-20,2],[-18,4],[-16,-2],[-14,5],[-12,1],[-10,3],[-9,7],[-8,0],[-7,5],[-6,2],[-5,8],[-4,-2],[-3,4],[-2,8],[-1,2],[0,9],[1,4],[2,-1],[3,7],[4,2],[5,6],[6,3],[7,9],[8,1],[9,8],[10,4],[11,11],[12,7],[13,2],[14,9],[15,5],[16,6],[17,12],[18,3],[19,9],[20,5],[21,10],[22,7],[23,4],[24,11],[25,8],[26,5],[27,9],[28,12],[29,6],[30,4],[31,10],[32,7],[33,11],[34,5],[35,9],[36,6],[37,12],[38,8],[39,5],[40,11],[41,8],[42,6],[43,12],[44,10],[45,8],[46,6],[47,13],[48,11],[49,9],[50,7],[51,12],[52,9],[53,14],[54,8],[55,12],[56,10],[57,8],[58,12],[59,14],[60,9],[61,13],[62,9],[-40,-4],[-38,0],[-36,-6],[-35,3],[-33,-2],[-31,0],[-30,-5],[-28,4],[-27,-3],[-26,1],[-25,-1],[-24,4],[-23,-5],[-22,6],[-21,2],[-20,-2],[-19,8],[-18,1],[-17,5],[-16,3],[-15,8],[-14,1],[-13,4],[-12,-2],[-11,6],[-10,9],[-9,3],[-8,5],[-7,-1],[-6,7],[-5,4],[-4,10],[-3,1],[-2,-1],[-1,6],[0,2],[1,11],[2,5],[3,1],[4,9],[5,3],[6,10],[7,6],[8,-2],[9,3],[10,13],[11,6],[12,9],[13,5],[14,1],[15,11],[16,8],[17,2],[18,7],[19,12],[20,10],[21,3],[22,9],[23,13],[24,4],[25,12],[26,8],[27,2],[28,10],[29,13],[30,7],[31,15],[32,9],[33,4],[34,11],[35,13],[36,8],[37,3],[38,10],[39,14],[40,6],[41,12],[42,15],[43,9],[44,4],[45,13],[46,10],[47,15],[48,7],[49,12],[50,16],[51,5],[52,13],[53,10],[54,12],[55,15],[56,8],[57,17],[58,10],[59,11],[60,15],[61,7],[62,12],[64,9],[65,5],[67,6],[69,9],[71,12],[73,8],[75,6],[77,14],[79,15],[81,5]];
const ambRFit = [[-62,-10.5],[-60,-9.4],[-53,-7.4],[-46,-5.6],[-38,-3.5],[-31,-1.9],[-24,-0.6],[-18,0.3],[-9,1.9],[0,3.1],[8,3.8],[15,4.4],[28,5.9],[37,7.2],[46,8.75],[53,9.9],[60,11.1],[73,12.8],[86,14.4]];
const ambRSegs = [[-62, 60]];
const ambRLabels = [{value:[60,13.9], name:'60'}];

// ---------- F) Snow ----------
const snowLPts = [[-80,1],[-76,0],[-72,1],[-68,0],[-64,1],[-60,0],[-56,1],[-52,0],[-48,1],[-44,0],[-40,1],[-36,2],[-32,2],[-28,1],[-24,2],[-20,2],[-16,2],[-12,1],[-8,2],[-4,1],[-3,12],[-2,10],[-1,8],[-2,5],[0,3],[1,7],[2,5],[3,8],[4,6],[5,9],[6,7],[7,9],[8,5],[9,4],[10,7],[11,3],[12,5],[13,2],[14,4],[15,1],[16,3],[17,6],[18,2],[19,1],[20,0],[21,3],[22,1],[24,2],[26,0],[28,1],[30,2],[32,0],[34,1],[36,2],[38,0],[40,1],[42,2],[44,3],[46,1],[20,9],[22,12],[24,15],[25,18],[26,20],[27,17],[28,22],[29,24],[30,20],[31,26],[32,23],[33,27],[34,29],[35,25],[36,27],[37,24],[38,29],[39,37],[40,38],[41,36],[42,33],[43,31],[44,28],[45,25],[46,20],[47,18],[48,21],[49,19],[50,22],[51,20],[52,23],[53,34],[54,36],[55,38],[56,37],[57,35],[58,39],[59,41],[60,42],[61,44],[62,17],[63,43],[64,12],[65,10],[66,46],[67,48],[68,50],[70,50],[72,51],[74,49],[76,50],[78,48],[48,24],[50,25],[52,26],[54,24],[56,27],[58,25],[60,28],[62,26],[30,13],[32,11],[34,9],[36,7],[38,6]];
const snowLFit = [[-78,0],[-65,-0.2],[-50,0.3],[-35,0.2],[-20,0.3],[-9,0.6],[0,0.9],[5,1.5],[8.4,1.8],[12,1.4],[16,1.1],[19.6,1.2],[24,3.5],[28,7.1],[33,11.5],[38,15.5],[42,18],[47,20],[53,22.2],[58,24.8],[62,27.3],[66,29.8],[69,33],[71,36.3],[74,42],[76,48.6]];
const snowLSegs = [[19.6, 76]];
const snowLLabels = [{value:[24.5,13.2], name:'20'}];

const snowRPts = [[-66,72],[-62,67],[-60,68],[-57,71],[-55,76],[-53,74],[-51,73],[-49,78],[-47,77],[-46,69],[-44,64],[-42,58],[-40,55],[-38,52],[-36,46],[-34,40],[-32,34],[-30,29],[-28,22],[-26,16],[-24,9],[-22,3],[-20,1],[-18,0],[-15,1],[-12,0],[-40,76],[-38,75],[-36,74],[-34,73],[-32,77],[-30,75],[-29,71],[-28,67],[-27,64],[-26,60],[-24,57],[-22,55],[-20,54],[-18,53],[-16,53],[-25,30],[-23,33],[-21,35],[-19,32],[-17,34],[-15,30],[-13,31],[-11,28],[-9,26],[-7,22],[-6,19],[-4,15],[-2,11],[-8,46],[-6,44],[-4,42],[-2,41],[0,40],[2,40],[4,38],[6,35],[8,33],[10,31],[12,28],[14,25],[16,20],[18,15],[19,10],[20,7],[4,37],[6,32],[8,29],[10,26],[12,22],[14,18],[16,14],[18,11],[-10,2],[-8,5],[-6,3],[-4,8],[-2,6],[0,4],[2,9],[4,6],[6,12],[8,8],[10,5],[12,11],[14,7],[16,4],[18,9],[20,6],[22,3],[24,8],[26,5],[28,2],[30,6],[32,3],[34,1],[36,4],[38,8],[39,15],[40,18],[41,16],[42,12],[43,17],[44,14],[45,10],[46,7],[47,4],[48,2],[50,1],[52,3],[54,2],[56,5],[58,9],[59,12],[60,8],[61,4],[62,2],[64,1],[66,1],[68,1],[70,1],[72,1],[74,1],[76,1],[78,1],[80,1],[82,1],[84,1],[86,1]];
const snowRFit = [[-49,80.5],[-44,75.5],[-40,70.6],[-35,65.2],[-32,58],[-29,49],[-26,41],[-23,33.8],[-19,26],[-15.5,21.2],[-12,18],[-8,15.8],[-4,13],[0,10.4],[5,5.9],[10,4.8],[15,4.1],[22,2.5],[31,-0.4],[37,0.1],[43,0.5],[48,-0.3],[53,-1.3],[58,-2.5],[61,-3.3],[63,-4]];
const snowRSegs = [[-49, 5], [61, 63]];
const snowRLabels = [{value:[4.7,12.2], name:'5'}];

// ---------- text ----------
const titles = ['A) Body Temperature', 'B) Activity', 'C) Heart Rate', 'D) Heart Rate Variability (SDANN)', 'E) Ambient Temperature', 'F) Snow'];
const yNames = ['\u00b0C', 'Activity Units (AU)', 'Beats per min.', 'SDANN (msec)', '\u00b0C', 'cm'];

const RED = '#ff0000', BLUE = '#0000ff';
const panels = [
  {pts: btLPts.concat(btLPtsMore), fit: btLFit, segs: btLSegs, color: RED, lbl: btLLabels, xr: [-84.7, 85.9], yr: [31.35, 38.4], xt: xTicks50, yt: yTicksBT, yl: yLabBT},
  {pts: btRPts.concat(btRPtsMore), fit: btRFit, segs: btRSegs, color: BLUE, lbl: btRLabels, xr: [-86.7, 70.9], yr: [31.69, 38.1], xt: xTicks50, yt: yTicksBT, yl: yLabBT},
  {pts: actLPts.concat(actLPtsMore), fit: actLFit, segs: actLSegs, color: RED, lbl: actLLabels, xr: [-79.2, 85.4], yr: [-4.6, 100.7], xt: xTicks50, yt: yTicksAct, yl: yLabAct},
  {pts: actRPts.concat(actRPtsMore), fit: actRFit, segs: actRSegs, color: BLUE, lbl: actRLabels, xr: [-75.5, 75.7], yr: [-3.9, 103.5], xt: xTicks20, yt: yTicksAct, yl: yLabAct},
  {pts: hrLPts.concat(hrLPtsMore), fit: hrLFit, segs: hrLSegs, color: RED, lbl: hrLLabels, xr: [-84.5, 82.6], yr: [6.4, 83.8], xt: xTicks50, yt: yTicksHRL, yl: yLabHRL},
  {pts: hrRPts.concat(hrRPtsMore), fit: hrRFit, segs: hrRSegs, color: BLUE, lbl: hrRLabels, xr: [-101.5, 103], yr: [6.7, 89], xt: xTicks100, yt: yTicksHRR, yl: yTicksHRR},
  {pts: hrvLPts.concat(hrvLPtsMore), fit: hrvLFit, segs: hrvLSegs, color: RED, lbl: hrvLLabels, xr: [-84.5, 82.6], yr: [-14, 378], xt: xTicks50, yt: yTicksSDL, yl: yTicksSDL},
  {pts: hrvRPts.concat(hrvRPtsMore), fit: hrvRFit, segs: hrvRSegs, color: BLUE, lbl: hrvRLabels, xr: [-101.5, 102.5], yr: [-16, 425.7], xt: xTicks100, yt: yTicksSDR, yl: yTicksSDR},
  {pts: ambLPts.concat(ambLPtsMore), fit: ambLFit, segs: ambLSegs, color: RED, lbl: ambLLabels, xr: [-84.5, 82.6], yr: [-22.4, 17.9], xt: xTicks50, yt: yTicksAmbL, yl: yTicksAmbL, zero: true},
  {pts: ambRPts.concat(ambRPtsMore), fit: ambRFit, segs: ambRSegs, color: BLUE, lbl: ambRLabels, xr: [-72, 92.4], yr: [-9.2, 19.6], xt: xTicks50, yt: yTicksAmbR, yl: yTicksAmbR, zero: true},
  {pts: snowLPts, fit: snowLFit, segs: snowLSegs, color: BLUE, lbl: snowLLabels, xr: [-84.5, 82.6], yr: [-2.1, 50.2], xt: xTicks50, yt: yTicksSnowL, yl: yTicksSnowL, small: true},
  {pts: snowRPts, fit: snowRFit, segs: snowRSegs, color: RED, lbl: snowRLabels, xr: [-71.9, 91.7], yr: [-3.1, 80.5], xt: xTicks50, yt: yTicksSnowR, yl: yTicksSnowR, small: true}
];

// ---------- layout ----------
const colLeft = [65, 546];
const plotW = 447;
const rowTop = [48, 278.3, 507.3, 738, 970.7, 1196.7];
const rowH = [154, 155.5, 155.5, 154.3, 153.6, 155.5];
const titleBase = [33, 266.7, 493.3, 725, 956, 1185.7];
const yNamePos = [[19, 127], [20, 368], [21, 593], [21, 825], [22, 1057], [23, 1282]];

const fmt = v => String(v).replace('-', '\u2212');
const AX = '#222';
const grids = [], xAxes = [], yAxes = [], series = [];

panels.forEach((p, i) => {
  const row = Math.floor(i / 2), col = i % 2;
  grids.push({left: colLeft[col], top: rowTop[row], width: plotW, height: rowH[row], show: true, borderColor: AX, borderWidth: 1.5, backgroundColor: 'transparent', containLabel: false});
  xAxes.push({type: 'value', gridIndex: i, min: p.xr[0], max: p.xr[1], splitLine: {show: false}, axisLine: {show: false, onZero: false},
    axisTick: {show: true, length: 7, lineStyle: {color: AX, width: 1.5}, customValues: p.xt},
    axisLabel: {show: true, margin: 19, fontSize: 12, fontWeight: 'bold', fontFamily: 'Liberation Sans', color: '#222', formatter: fmt, customValues: p.xt}});
  yAxes.push({type: 'value', gridIndex: i, min: p.yr[0], max: p.yr[1], splitLine: {show: false}, axisLine: {show: false, onZero: false},
    axisTick: {show: true, length: 7, lineStyle: {color: AX, width: 1.5}, customValues: p.yt},
    axisLabel: {show: true, rotate: 90, margin: 17, fontSize: 12, fontWeight: 'bold', fontFamily: 'Liberation Sans', color: '#222', formatter: fmt, customValues: p.yl}});
  series.push({type: 'scatter', xAxisIndex: i, yAxisIndex: i, data: p.pts, symbol: 'roundRect', symbolSize: p.small ? 6 : 8, itemStyle: {color: '#bebebe', opacity: 1}, silent: true, z: 2});
  series.push({type: 'line', xAxisIndex: i, yAxisIndex: i, data: p.fit, smooth: 0.4, showSymbol: false, lineStyle: {color: '#111', width: 1.6}, silent: true, z: 3});
  p.segs.forEach(s => {
    series.push({type: 'line', xAxisIndex: i, yAxisIndex: i, data: p.fit.filter(q => q[0] >= s[0] - 1e-9 && q[0] <= s[1] + 1e-9), smooth: 0.4, showSymbol: false, lineStyle: {color: p.color, width: 3}, silent: true, z: 4});
  });
  const ml = [{xAxis: 0, lineStyle: {color: '#00ee00', width: 3, type: 'solid'}}];
  if (p.zero) ml.push({yAxis: 0, lineStyle: {color: '#444', width: 1.6, type: [5, 4]}});
  series.push({type: 'line', xAxisIndex: i, yAxisIndex: i, data: [], silent: true, z: 5,
    markLine: {symbol: 'none', silent: true, animation: false, label: {show: false}, data: ml}});
  series.push({type: 'scatter', xAxisIndex: i, yAxisIndex: i, data: p.lbl, symbolSize: 0, itemStyle: {color: '#000', opacity: 1}, silent: true, z: 6,
    label: {show: true, position: 'inside', formatter: '{b}', fontSize: 26, fontFamily: 'Liberation Sans', color: '#111', opacity: 1}});
});

const graphics = [];
titles.forEach((t, r) => {
  graphics.push({type: 'text', x: 66, y: titleBase[r] + 6.5, style: {text: t, fontSize: 27, fontWeight: 'bold', fontFamily: 'Liberation Sans', fill: '#111', align: 'left', verticalAlign: 'bottom'}});
  graphics.push({type: 'text', x: yNamePos[r][0], y: yNamePos[r][1], rotation: Math.PI / 2, style: {text: yNames[r], fontSize: 16, fontFamily: 'Liberation Sans', fill: '#222', align: 'center', verticalAlign: 'middle'}});
});

const chart = echarts.init(document.getElementById('c'), null, {renderer: 'canvas'});
chart.setOption({animation: false, grid: grids, xAxis: xAxes, yAxis: yAxes, series: series, graphic: graphics});
</script>
</body></html>
